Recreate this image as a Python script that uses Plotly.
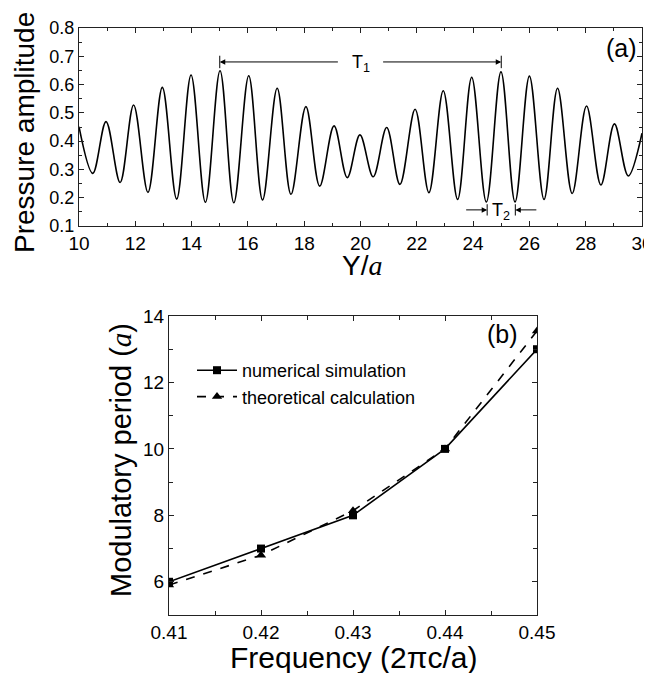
import plotly.graph_objects as go

# ---------------- data: panel (a) ----------------
# local extrema (peaks / troughs) of the pressure-amplitude curve
y_pos = [10.0, 10.49, 10.96, 11.46, 11.94, 12.45, 12.96, 13.47, 13.98, 14.49, 15.01,
         15.5, 16.03, 16.52, 17.04, 17.53, 18.06, 18.55, 19.06, 19.53, 19.98, 20.45,
         20.93, 21.4, 21.94, 22.43, 22.94, 23.45, 23.95, 24.47, 24.99, 25.49, 26.0,
         26.52, 27.0, 27.52, 28.03, 28.54, 29.02, 29.51, 30.0]
amplitude = [0.451, 0.286, 0.469, 0.254, 0.528, 0.219, 0.590, 0.195, 0.634, 0.184, 0.649,
             0.182, 0.631, 0.192, 0.587, 0.212, 0.522, 0.241, 0.454, 0.271, 0.422, 0.274,
             0.448, 0.247, 0.513, 0.218, 0.578, 0.194, 0.626, 0.185, 0.645, 0.185, 0.630,
             0.194, 0.587, 0.215, 0.524, 0.245, 0.461, 0.277, 0.428]

xa_tickvals = [10, 12, 14, 16, 18, 20, 22, 24, 26, 28, 30]
xa_ticktext = ["10", "12", "14", "16", "18", "20", "22", "24", "26", "28", "30"]
ya_tickvals = [0.1, 0.2, 0.3, 0.4, 0.5, 0.6, 0.7, 0.8]
ya_ticktext = ["0.1", "0.2", "0.3", "0.4", "0.5", "0.6", "0.7", "0.8"]

# annotation anchors (a)
t1_start, t1_end, t1_level = 15.0, 25.0, 0.68
t2_start, t2_end, t2_level = 24.5, 25.5, 0.157

# ---------------- data: panel (b) ----------------
frequency = [0.41, 0.42, 0.43, 0.44, 0.45]
numerical = [6.0, 7.0, 8.0, 10.0, 13.0]
theoretical = [5.9, 6.8, 8.14, 10.0, 13.55]
xb_tickvals = [0.41, 0.42, 0.43, 0.44, 0.45]
xb_ticktext = ["0.41", "0.42", "0.43", "0.44", "0.45"]
yb_tickvals = [6, 8, 10, 12, 14]
yb_ticktext = ["6", "8", "10", "12", "14"]

FONT = "Liberation Sans, Arial, sans-serif"
SERIF = "Liberation Serif, Times New Roman, serif"
# the page body adds an 8px margin, so the figure is 8px smaller and all positions shift by 8
W, H = 644, 665


def px(xp):
    return xp / W


def py(yp):
    return 1 - yp / H


fig = go.Figure()
fig.add_trace(go.Scatter(x=y_pos, y=amplitude, mode="lines",
                         line=dict(color="black", width=1.6, shape="spline", smoothing=1.0),
                         showlegend=False, xaxis="x", yaxis="y"))
fig.add_trace(go.Scatter(x=frequency, y=numerical, mode="lines+markers",
                         name="numerical simulation",
                         line=dict(color="black", width=1.6),
                         marker=dict(symbol="square", size=8, color="black"),
                         xaxis="x2", yaxis="y2"))
fig.add_trace(go.Scatter(x=frequency, y=theoretical, mode="lines+markers",
                         name="theoretical calculation",
                         line=dict(color="black", width=1.6, dash="dash"),
                         marker=dict(symbol="triangle-up", size=9, color="black"),
                         xaxis="x2", yaxis="y2"))

axis_common = dict(showline=True, linecolor="#222", linewidth=1.2, mirror="allticks",
                   ticks="inside", ticklen=5, tickcolor="#222", tickwidth=1,
                   showgrid=False, zeroline=False, automargin=False,
                   ticklabeloverflow="allow")

fig.update_layout(
    width=W, height=H,
    margin=dict(l=0, r=0, t=0, b=0),
    paper_bgcolor="white", plot_bgcolor="white",
    font=dict(family=FONT, color="black"),
    xaxis=dict(domain=[px(71), px(634)], anchor="y", range=[10, 30],
               tickvals=xa_tickvals, ticktext=xa_ticktext, tickfont=dict(size=19),
               minor=dict(dtick=1, ticks="inside", ticklen=3, tickcolor="#222"),
               **axis_common),
    yaxis=dict(domain=[py(218), py(20)], anchor="x", range=[0.1, 0.8],
               tickvals=ya_tickvals, ticktext=ya_ticktext, tickfont=dict(size=18),
               minor=dict(dtick=0.05, tick0=0.1, ticks="inside", ticklen=3, tickcolor="#222"),
               **axis_common),
    xaxis2=dict(domain=[px(161), px(529)], anchor="y2", range=[0.41, 0.45],
                tickvals=xb_tickvals, ticktext=xb_ticktext, tickfont=dict(size=19),
                minor=dict(dtick=0.005, tick0=0.41, ticks="inside", ticklen=4, tickcolor="#222"),
                **axis_common),
    yaxis2=dict(domain=[py(607), py(308)], anchor="x2", range=[5, 14],
                tickvals=yb_tickvals, ticktext=yb_ticktext, tickfont=dict(size=19),
                minor=dict(dtick=1, tick0=5, ticks="inside", ticklen=4, tickcolor="#222"),
                **axis_common),
    legend=dict(x=px(184), y=py(344), xanchor="left", yanchor="top",
                bgcolor="rgba(0,0,0,0)", font=dict(size=18), tracegroupgap=0,
                itemwidth=40),
)

# ---- axis titles ----
title_common = dict(xref="paper", yref="paper", showarrow=False,
                    xanchor="center", yanchor="middle")
fig.add_annotation(x=px(354), y=py(257), text="Y/<span style=\"font-family:%s\"><i>a</i></span>" % SERIF,
                   font=dict(size=28), **title_common)
fig.add_annotation(x=px(16), y=py(125), text="Pressure amplitude", textangle=-90,
                   font=dict(size=28), **title_common)
fig.add_annotation(x=px(345), y=py(649), text="Frequency (2πc/a)",
                   font=dict(size=30), **title_common)
fig.add_annotation(x=px(113), y=py(452),
                   text="Modulatory period (<span style=\"font-family:%s\"><i>a</i></span>)" % SERIF,
                   textangle=-90, font=dict(size=29), **title_common)

# ---- panel (a) annotations: T1 and T2 ----
arrow = dict(xref="x", yref="y", axref="x", ayref="y", text="", showarrow=True,
             arrowhead=2, arrowsize=1.1, arrowwidth=1, arrowcolor="black")
t1_mid = (t1_start + t1_end) / 2
fig.add_annotation(x=t1_start, y=t1_level, ax=t1_mid - 0.75, ay=t1_level, **arrow)
fig.add_annotation(x=t1_end, y=t1_level, ax=t1_mid + 0.75, ay=t1_level, **arrow)
fig.add_annotation(x=t1_mid, y=t1_level, xref="x", yref="y", text="T<sub>1</sub>",
                   showarrow=False, font=dict(size=18), yshift=-2)
fig.add_annotation(x=t2_start, y=t2_level, ax=t2_start - 0.8, ay=t2_level, **arrow)
fig.add_annotation(x=t2_end, y=t2_level, ax=t2_end + 0.8, ay=t2_level, **arrow)
fig.add_annotation(x=(t2_start + t2_end) / 2, y=t2_level, xref="x", yref="y",
                   text="T<sub>2</sub>", showarrow=False, font=dict(size=18), yshift=-2)
for xv, lv, h in [(t1_start, t1_level, 0.022), (t1_end, t1_level, 0.022),
                  (t2_start, t2_level, 0.02), (t2_end, t2_level, 0.02)]:
    fig.add_shape(type="line", xref="x", yref="y", x0=xv, x1=xv, y0=lv - h, y1=lv + h,
                  line=dict(color="black", width=1))

fig.add_annotation(x=0.995, y=0.8, xref="x domain", yref="y", text="(a)", showarrow=False,
                   xanchor="right", yanchor="top", font=dict(size=25), yshift=-4)
fig.add_annotation(x=0.955, y=14, xref="x2 domain", yref="y2", text="(b)", showarrow=False,
                   xanchor="right", yanchor="top", font=dict(size=25), yshift=-2)

fig.write_html("out.html")
